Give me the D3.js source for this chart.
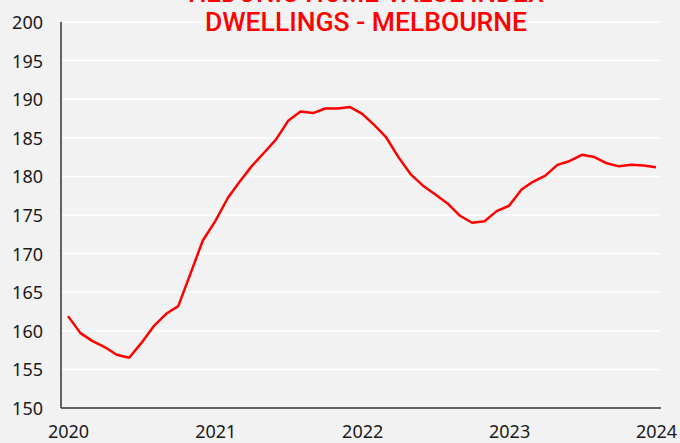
<!DOCTYPE html>
<html>
<head>
<meta charset="utf-8">
<script src="https://cdn.jsdelivr.net/npm/d3@7"></script>
<style>
  html, body { margin: 0; padding: 0; background: #f2f2f2; }
  #graf { width: 680px; height: 443px; }
  .tick text { font-family: "Noto Sans", sans-serif; font-size: 18px; fill: #1a1a1a; }
</style>
</head>
<body>
<div id="graf"></div>
<script>
// Datos: índice mensual, ene 2020 - ene 2024
const meses = d3.range(49).map((i) => new Date(2020, i, 1))
const valores = [
  161.9, 159.7, 158.7, 157.9, 156.9, 156.5, 158.4, 160.6, 162.2, 163.2, 167.5, 171.7,
  174.2, 177.2, 179.2, 181.3, 183.0, 184.8, 187.2, 188.4, 188.2, 188.8, 188.8, 189.0,
  188.1, 186.6, 185.1, 182.5, 180.3, 178.8, 177.7, 176.5, 174.9, 174.0, 174.2, 175.5,
  176.2, 178.3, 179.3, 180.1, 181.5, 182.0, 182.8, 182.5, 181.7, 181.3, 181.5, 181.4,
  181.2
]
const yTicks = [150, 155, 160, 165, 170, 175, 180, 185, 190, 195, 200]
const xTicks = [2020, 2021, 2022, 2023, 2024]
const titulo = ["HEDONIC HOME VALUE INDEX", "DWELLINGS - MELBOURNE"]

const dataset = meses.map((d, i) => ({ fecha: d, valor: valores[i] }))

const anchoTotal = 680
const altoTotal = 443
const margins = { top: 22, right: 19, bottom: 35, left: 61 }
const ancho = anchoTotal - margins.left - margins.right
const alto = altoTotal - margins.top - margins.bottom

const x = d3.scaleTime()
  .domain([new Date(2020, 0, 1), new Date(2024, 0, 1)])
  .range([7, ancho - 5])

const y = d3.scaleLinear()
  .domain([150, 200])
  .range([alto, 0])

const svg = d3.select("#graf")
  .append("svg")
  .attr("width", anchoTotal)
  .attr("height", altoTotal)

const chart = svg.append("g")
  .attr("transform", `translate(${margins.left}, ${margins.top})`)

// Rejilla
chart.append("g")
  .selectAll("line")
  .data(yTicks.filter((d) => d > 150))
  .join("line")
  .attr("x1", 0)
  .attr("x2", ancho)
  .attr("y1", (d) => y(d))
  .attr("y2", (d) => y(d))
  .attr("stroke", "#ffffff")
  .attr("stroke-width", 1.5)

// Ejes
const yAxis = d3.axisLeft(y).tickValues(yTicks).tickSize(0).tickPadding(18)
const yAxisGroup = chart.append("g").call(yAxis)
yAxisGroup.select(".domain").remove()
yAxisGroup.selectAll(".tick text").attr("dy", "0.36em")

const xAxis = d3.axisBottom(x)
  .tickValues(xTicks.map((a) => new Date(a, 0, 1)))
  .tickFormat(d3.timeFormat("%Y"))
  .tickSize(0)
  .tickPadding(17)
const xAxisGroup = chart.append("g")
  .attr("transform", `translate(0, ${alto})`)
  .call(xAxis)
xAxisGroup.select(".domain").remove()

chart.append("line")
  .attr("x1", 0).attr("x2", 0)
  .attr("y1", 0).attr("y2", alto)
  .attr("stroke", "#333").attr("stroke-width", 1.5)

chart.append("line")
  .attr("x1", 0).attr("x2", ancho)
  .attr("y1", alto).attr("y2", alto)
  .attr("stroke", "#333").attr("stroke-width", 1.5)

// Línea
chart.append("path")
  .datum(dataset)
  .attr("fill", "none")
  .attr("stroke", "#ff0000")
  .attr("stroke-width", 2.5)
  .attr("stroke-linejoin", "round")
  .attr("d", d3.line()
    .x((d) => x(d.fecha))
    .y((d) => y(d.valor)))

// Título (la primera línea queda cortada arriba, como en el original)
svg.append("g")
  .selectAll("text")
  .data(titulo)
  .join("text")
  .attr("x", 366)
  .attr("y", (d, i) => 2 + i * 29)
  .attr("text-anchor", "middle")
  .attr("fill", "#ff0000")
  .style("font-family", "Roboto, sans-serif")
  .style("font-size", "26px")
  .style("font-weight", 500)
  .attr("textLength", (d, i) => i === 1 ? 322 : null)
  .attr("lengthAdjust", "spacingAndGlyphs")
  .text((d) => d)
</script>
</body>
</html>
